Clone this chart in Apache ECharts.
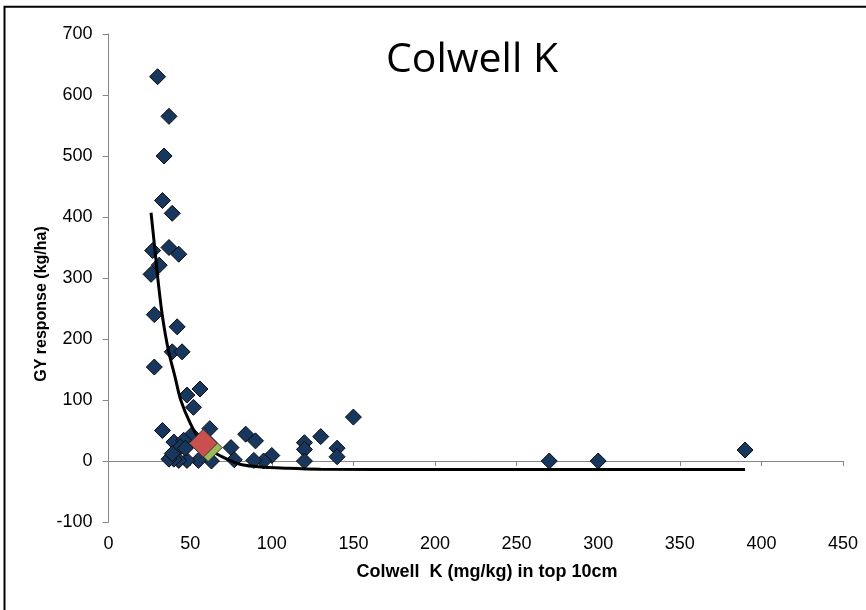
<!DOCTYPE html>
<html>
<head>
<meta charset="utf-8">
<script src="https://cdn.jsdelivr.net/npm/echarts@6/dist/echarts.min.js"></script>
<style>html,body{margin:0;padding:0;background:#fff;}#c{width:866px;height:610px;}</style>
</head>
<body>
<div id="c"></div>
<script>
var titleText = "Colwell K";
var xAxisTitle = "Colwell  K (mg/kg) in top 10cm";
var yAxisTitle = "GY response (kg/ha)";
var xTicks = [0, 50, 100, 150, 200, 250, 300, 350, 400, 450];
var yTicks = [-100, 0, 100, 200, 300, 400, 500, 600, 700];

var sitePoints = [
  [30,630],[37,565],[34,500],[33,427],[39,406],[27,345],[37,350],[43,339],[31,321],[26,306],
  [28,240],[42,220],[39,179],[45,179],[28,154],[56,118],[48,108],[52,88],[150,72],[33,50],
  [62,53],[51,43],[84,44],[90,33],[130,40],[120,30],[120,19],[140,21],[140,7],[75,22],
  [100,9],[95,0],[89,1],[77,2],[63,0],[55,1],[48,1],[43,1],[40,3],[37,3],[120,0],
  [40,31],[46,34],[44,23],[47,21],[39,12],[270,0],[300,0],[390,18]
];
var redPoint = [[58,29]];
var greenPoint = [[61,22]];
var trendPoints = [
  [26,407],[28.4,346],[30.5,291],[33,237],[36.6,182],[40.7,138],[44.2,100],[50,62],
  [56,34],[62,19],[68,9],[80,-5],[90,-9],[110,-12],[130,-13.5],[200,-14],[300,-14],[390,-14]
];

var chart = echarts.init(document.getElementById('c'), null, {renderer: 'canvas'});
var axisGray = '#868686';
chart.setOption({
  animation: false,
  backgroundColor: '#ffffff',
  title: {
    text: titleText,
    left: 467, top: 35, textAlign: 'center',
    textStyle: {fontFamily: 'Open Sans', fontSize: 41, fontWeight: 'normal', color: '#000'}
  },
  graphic: [
    {type: 'rect', shape: {x: 4.5, y: 6.7, width: 900, height: 700}, style: {fill: 'none', stroke: '#000', lineWidth: 2}, z: -10},
    {type: 'text', x: 487, y: 572, style: {text: xAxisTitle, font: 'bold 18px "Liberation Sans", Arial', fill: '#000', textAlign: 'center', textVerticalAlign: 'middle'}},
    {type: 'text', x: 42, y: 304, rotation: Math.PI/2, style: {text: yAxisTitle, font: 'bold 16px "Liberation Sans", Arial', fill: '#000', textAlign: 'center', textVerticalAlign: 'middle'}}
  ],
  grid: {left: 108.6, top: 34, width: 734.4, height: 488, containLabel: false},
  xAxis: {
    type: 'value', min: xTicks[0], max: xTicks[xTicks.length-1], interval: 50,
    axisLine: {show: true, onZero: true, lineStyle: {color: axisGray, width: 1}},
    axisTick: {show: true, inside: false, length: 5, lineStyle: {color: axisGray}},
    axisLabel: {fontFamily: 'Liberation Sans', fontSize: 18, color: '#000', margin: 13, showMinLabel: true, showMaxLabel: true},
    splitLine: {show: false}
  },
  yAxis: {
    type: 'value', min: yTicks[0], max: yTicks[yTicks.length-1], interval: 100,
    axisLine: {show: true, onZero: false, lineStyle: {color: axisGray, width: 1}},
    axisTick: {show: true, inside: false, length: 6, lineStyle: {color: axisGray}},
    axisLabel: {fontFamily: 'Liberation Sans', fontSize: 18, color: '#000', margin: 16},
    splitLine: {show: false}
  },
  series: [
    {
      type: 'scatter', data: sitePoints, symbol: 'diamond', symbolSize: 16, z: 2,
      itemStyle: {color: '#17375E', borderColor: '#0a0a0a', borderWidth: 1, opacity: 1}
    },
    {
      type: 'line', data: trendPoints, smooth: 0.35, showSymbol: false, symbol: 'none', z: 3,
      lineStyle: {color: '#000', width: 3}
    },
    {
      type: 'scatter', data: greenPoint, symbol: 'diamond', symbolSize: 28, z: 4,
      itemStyle: {color: '#9BBB59', borderColor: '#333', borderWidth: 1, opacity: 1}
    },
    {
      type: 'scatter', data: redPoint, symbol: 'diamond', symbolSize: 28, z: 5,
      itemStyle: {color: '#C9504E', borderColor: '#333', borderWidth: 1, opacity: 1}
    }
  ]
});
</script>
</body>
</html>
